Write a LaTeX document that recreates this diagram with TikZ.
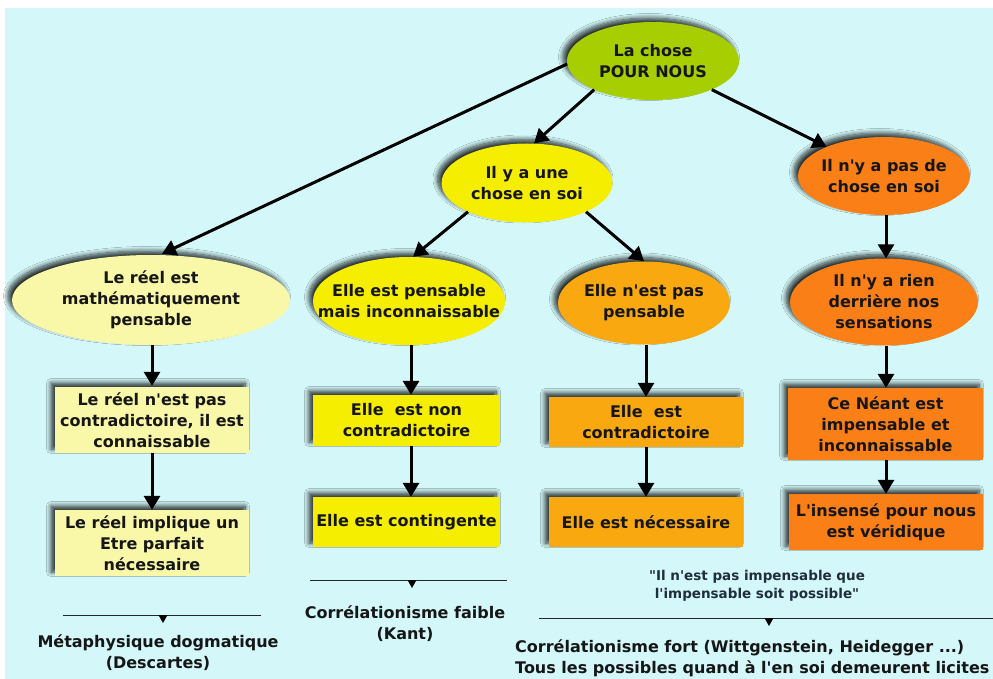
\documentclass[tikz,border=0pt]{standalone}
\usepackage{fontspec}
\setmainfont{DejaVu Sans}
\newfontfamily\dvs{DejaVu Sans}
\usetikzlibrary{shapes.geometric,arrows.meta,shadows.blur,calc}
\definecolor{bgc}{HTML}{D4F8F9}
\definecolor{rootc}{HTML}{A6CE00}
\definecolor{yelc}{HTML}{F5EE00}
\definecolor{palec}{HTML}{F9F8A8}
\definecolor{ambc}{HTML}{F9A90F}
\definecolor{orac}{HTML}{F97F16}
\definecolor{txtc}{HTML}{161616}
\definecolor{qtc}{HTML}{1F2D3D}
\newcommand\lblfont{\dvs\bfseries\fontsize{16}{21}\selectfont}
\newcommand\qtfont{\dvs\bfseries\fontsize{13.5}{18}\selectfont}
\tikzset{
  shd/.style={blur shadow={shadow xshift=-4pt,shadow yshift=4pt,shadow blur radius=4.5pt,shadow blur steps=10,shadow opacity=80}},
  lbl/.style={align=center,font=\lblfont,text=txtc,inner sep=0pt},
  ell/.style={ellipse,inner sep=0pt,shd},
  boxn/.style={rectangle,inner sep=2pt,align=center,font=\lblfont,text=txtc,shd},
  arr/.style={line width=3pt,-{Triangle[length=14pt,width=16pt]}},
  rule/.style={line width=0.9pt,black!85},
  qt/.style={align=center,font=\qtfont,text=qtc,inner sep=0pt},
}
\begin{document}
\begin{tikzpicture}[x=1pt,y=-1pt]
\useasboundingbox (0,0) rectangle (993,679);
\fill[white] (0,0) rectangle (993,679);
\fill[bgc] (5,8) rectangle (993,679);

% ellipses
\node[ell,fill=rootc,minimum width=172pt,minimum height=78pt,label={[lbl]center:{La chose\\POUR NOUS}}] (root) at (653,61) {};
\node[ell,fill=yelc,minimum width=171pt,minimum height=79pt,label={[lbl]center:{Il y a une\\chose en soi}}] (une) at (527,183) {};
\node[ell,fill=orac,minimum width=172pt,minimum height=78pt,label={[lbl]center:{Il n'y a pas de\\chose en soi}}] (pas) at (884,176) {};
\node[ell,fill=palec,minimum width=278pt,minimum height=90pt,label={[lbl]center:{Le réel est\\mathématiquement\\pensable}}] (reel) at (151,300) {};
\node[ell,fill=yelc,minimum width=192pt,minimum height=88pt,label={[lbl]center:{Elle est pensable\\mais inconnaissable}}] (pensable) at (409,301) {};
\node[ell,fill=ambc,minimum width=172pt,minimum height=83pt,label={[lbl]center:{Elle n'est pas\\pensable}}] (nepas) at (644,303) {};
\node[ell,fill=orac,minimum width=188pt,minimum height=87pt,label={[lbl]center:{Il n'y a rien\\derrière nos\\sensations}}] (rien) at (884,302) {};

% boxes
\node[boxn,fill=palec,minimum width=194pt,minimum height=66pt] (b1) at (152,420) {Le réel n'est pas\\contradictoire, il est\\connaissable};
\node[boxn,fill=palec,minimum width=194pt,minimum height=66pt] (b2) at (152,543) {Le réel implique un\\Etre parfait\\nécessaire};
\node[boxn,fill=yelc,minimum width=187pt,minimum height=51pt] (c1) at (406.5,420.5) {Elle\ \ est non\\contradictoire};
\node[boxn,fill=yelc,minimum width=187pt,minimum height=50pt] (c2) at (406.5,522) {Elle est contingente};
\node[boxn,fill=ambc,minimum width=194pt,minimum height=50pt] (d1) at (646,422) {Elle\ \ est\\contradictoire};
\node[boxn,fill=ambc,minimum width=194pt,minimum height=50pt] (d2) at (646,522) {Elle est nécessaire};
\node[boxn,fill=orac,minimum width=195pt,minimum height=72pt] (e1) at (885.5,424) {Ce Néant est\\impensable et\\inconnaissable};
\node[boxn,fill=orac,minimum width=194pt,minimum height=56pt] (e2) at (886,522) {L'insensé pour nous\\est véridique};

% arrows
\draw[arr] (root.182) -- ($(reel.north)+(11,-1)$);
\draw[arr] (root.206) -- (une.80);
\draw[arr] (root.334) -- (pas.153);
\draw[arr] (une.206) -- ($(pensable.north)+(4,0)$);
\draw[arr] (une.334) -- (nepas.north);
\draw[arr] ($(pas.south)+(2,0)$) -- ($(rien.north)+(2,0)$);
\draw[arr] ($(reel.south)+(1,0)$) -- ($(b1.north)+(0,-1)$);
\draw[arr] (b1.south) -- (b2.north);
\draw[arr] ($(pensable.south)+(2,0)$) -- ($(c1.north)+(4.5,0)$);
\draw[arr] ($(c1.south)+(4.5,0)$) -- ($(c2.north)+(4.5,0)$);
\draw[arr] ($(nepas.south)+(2,0)$) -- (d1.north);
\draw[arr] (d1.south) -- (d2.north);
\draw[arr] ($(rien.south)+(2,0)$) -- ($(e1.north)+(0.5,0)$);
\draw[arr] ($(e1.south)+(0.5,0)$) -- (e2.north);

% conclusions
\coordinate (la1) at (63,615); \coordinate (lb1) at (261,615); \coordinate (m1) at (163,615);
\draw[rule] (la1) -- (lb1);
\fill (m1) ++(-4.5,0) -- ++(9,0) -- ++(-4.5,8) -- cycle;
\node[lbl] (t1) at (158,653) {Métaphysique dogmatique\\(Descartes)};

\coordinate (la2) at (310,580); \coordinate (lb2) at (507,580); \coordinate (m2) at (412,580);
\draw[rule] (la2) -- (lb2);
\fill (m2) ++(-4.5,0) -- ++(9,0) -- ++(-4.5,8) -- cycle;
\node[lbl] (t2) at (405,624) {Corrélationisme faible\\(Kant)};

\node[qt] (q) at (757,586) {"Il n'est pas impensable que\\l'impensable soit possible"};
\coordinate (la3) at (539,618); \coordinate (lb3) at (993,618); \coordinate (m3) at (769,618);
\draw[rule] (la3) -- (lb3);
\fill (m3) ++(-4.5,0) -- ++(9,0) -- ++(-4.5,8) -- cycle;
\node[lbl,align=left,anchor=west] (t3) at (515,658.5) {Corrélationisme fort (Wittgenstein, Heidegger ...)\\Tous les possibles quand à l'en soi demeurent licites};
\end{tikzpicture}
\end{document}
